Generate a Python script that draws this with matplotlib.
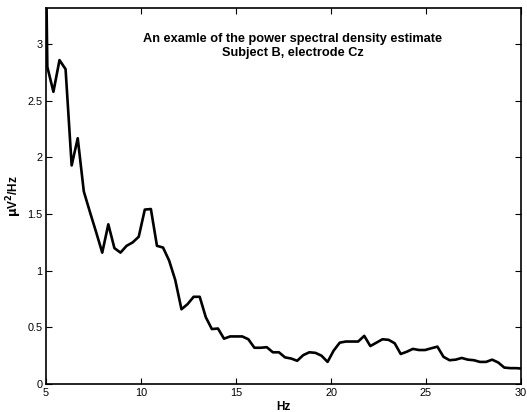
import matplotlib
matplotlib.use("Agg")
import matplotlib.pyplot as plt

plt.rcParams['font.family'] = ['Liberation Sans', 'DejaVu Sans']

freq_hz = [4.75, 5.07, 5.39, 5.71, 6.03, 6.35, 6.67, 6.99, 7.31, 7.64, 7.96,
           8.28, 8.60, 8.92, 9.24, 9.56, 9.88, 10.20, 10.52, 10.84, 11.16,
           11.48, 11.80, 12.13, 12.45, 12.77, 13.09, 13.41, 13.73, 14.05,
           14.37, 14.69, 15.01, 15.33, 15.65, 15.97, 16.29, 16.62, 16.94,
           17.26, 17.58, 17.90, 18.22, 18.54, 18.86, 19.18, 19.50, 19.82,
           20.14, 20.46, 20.78, 21.11, 21.43, 21.75, 22.07, 22.39, 22.71,
           23.03, 23.35, 23.67, 23.99, 24.31, 24.63, 24.95, 25.27, 25.60,
           25.92, 26.24, 26.56, 26.88, 27.20, 27.52, 27.84, 28.16, 28.48,
           28.80, 29.12, 29.44, 29.76, 30.08]
psd = [7.0, 2.80, 2.58, 2.86, 2.78, 1.93, 2.17, 1.70, 1.52, 1.34, 1.16,
       1.41, 1.20, 1.16, 1.22, 1.25, 1.30, 1.54, 1.545, 1.22, 1.205,
       1.09, 0.92, 0.66, 0.705, 0.77, 0.77, 0.59, 0.485, 0.49,
       0.40, 0.42, 0.42, 0.42, 0.395, 0.32, 0.32, 0.325, 0.28,
       0.28, 0.235, 0.225, 0.205, 0.255, 0.28, 0.275, 0.25, 0.195,
       0.295, 0.365, 0.375, 0.375, 0.375, 0.425, 0.335, 0.365, 0.395,
       0.39, 0.36, 0.265, 0.285, 0.31, 0.30, 0.30, 0.315, 0.33,
       0.24, 0.21, 0.215, 0.23, 0.215, 0.21, 0.195, 0.195, 0.215,
       0.19, 0.145, 0.14, 0.14, 0.135]

x_ticks = [5, 10, 15, 20, 25, 30]
y_ticks = [0, 0.5, 1, 1.5, 2, 2.5, 3]
y_tick_labels = ["0", "0.5", "1", "1.5", "2", "2.5", "3"]

title_lines = "An examle of the power spectral density estimate\nSubject B, electrode Cz"

fig = plt.figure(figsize=(5.27, 4.12), dpi=100)
ax = fig.add_axes([46/527, 28/412, 475/527, 376/412])
ax.plot(freq_hz, psd, color='black', linewidth=1.9)
ax.set_xlim(5, 30)
ax.set_ylim(0, 3.32)
ax.set_xticks(x_ticks)
ax.set_xticklabels([str(t) for t in x_ticks])
ax.set_yticks(y_ticks)
ax.set_yticklabels(y_tick_labels)
ax.tick_params(direction='in', length=4, width=0.8, labelsize=7.8,
               top=True, right=True)
ax.tick_params(axis='x', pad=3)
ax.tick_params(axis='y', pad=2.5)
for s in ax.spines.values():
    s.set_linewidth(1.2)

ax.text(18.0, 2.985, title_lines, ha='center', va='center',
        fontsize=9.2, fontweight='bold', linespacing=1.2)
ax.set_xlabel('Hz', fontsize=8.5, fontweight='bold', labelpad=2)
ax.set_ylabel(r'$\mathbf{\mu}$V$^\mathbf{2}$/Hz', fontsize=8.5, fontweight='bold', labelpad=2)

fig.savefig('out.png', dpi=100)
